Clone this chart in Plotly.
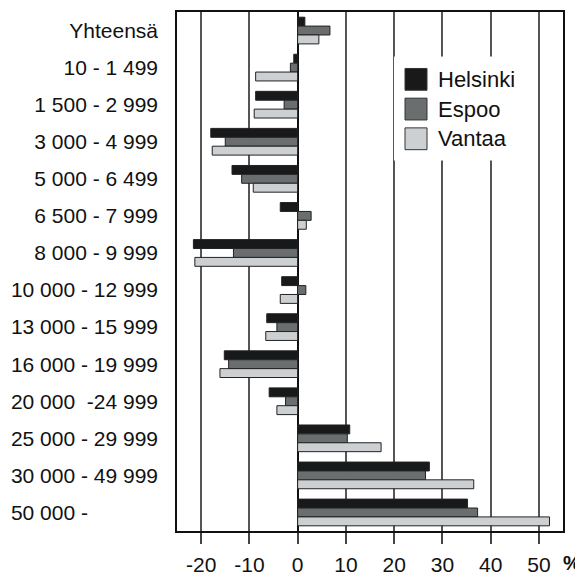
import plotly.graph_objects as go

# Data
categories = [
    "Yhteensä", "10 - 1 499", "1 500 - 2 999", "3 000 - 4 999", "5 000 - 6 499",
    "6 500 - 7 999", "8 000 - 9 999", "10 000 - 12 999", "13 000 - 15 999",
    "16 000 - 19 999", "20 000  -24 999", "25 000 - 29 999", "30 000 - 49 999",
    "50 000 -",
]
helsinki = [1.5, -0.8, -8.7, -18.0, -13.6, -3.6, -21.6, -3.3, -6.4, -15.2, -5.9, 10.8, 27.3, 35.2]
espoo = [6.7, -1.5, -2.8, -15.0, -11.6, 2.8, -13.3, 1.7, -4.3, -14.3, -2.5, 10.3, 26.5, 37.3]
vantaa = [4.4, -8.7, -9.0, -17.7, -9.2, 1.8, -21.3, -3.6, -6.6, -16.1, -4.3, 17.3, 36.5, 52.2]
series_names = ["Helsinki", "Espoo", "Vantaa"]
colors = ["#18191a", "#6a6e6f", "#cdd0d2"]
x_ticks = [-20, -10, 0, 10, 20, 30, 40, 50]
x_tick_text = ["-20", "-10", "0", "10", "20", "30", "40", "50"]

# display labels (last one sits further left in the original)
tick_text = [c for c in categories]
tick_text[-1] = "50 000 -" + "\u2007" * 6

FONT = "Liberation Sans, Arial, sans-serif"

# page has an 8px body margin, so work in page pixels and shift
OFF = 8
W, H = 583 - OFF, 578 - OFF
L, R, T, B = 177 - OFF, 563 - OFF, 10 - OFF, 534 - OFF


def px(x):
    return (x - OFF - L) / (R - L)


def py(y):
    return (B - (y - OFF)) / (B - T)


fig = go.Figure()
for name, vals, col in zip(series_names, [helsinki, espoo, vantaa], colors):
    fig.add_trace(
        go.Bar(
            y=categories,
            x=vals,
            name=name,
            orientation="h",
            marker=dict(color=col, line=dict(color="#222222", width=1)),
            showlegend=False,
        )
    )

# Legend (white box over gridlines + swatches + labels)
shapes = [
    dict(type="rect", xref="paper", yref="paper", x0=px(394), x1=px(536),
         y0=py(160), y1=py(55), fillcolor="white", line=dict(width=0), layer="above")
]
annotations = []
for i, (name, col) in enumerate(zip(series_names, colors)):
    top = 67 + 30 * i
    shapes.append(
        dict(type="rect", xref="paper", yref="paper", x0=px(405), x1=px(427),
             y0=py(top + 22), y1=py(top), fillcolor=col,
             line=dict(color="#333333", width=1), layer="above")
    )
    annotations.append(
        dict(xref="paper", yref="paper", x=px(436), y=py(top + 11), text=name,
             showarrow=False, xanchor="left", yanchor="middle",
             font=dict(size=22, color="#111111", family=FONT))
    )

annotations.append(
    dict(xref="paper", yref="paper", x=px(561), y=py(566), text="<b>%</b>",
         showarrow=False, xanchor="left", yanchor="middle",
         font=dict(size=20, color="#111111", family=FONT))
)

fig.update_layout(
    barmode="group",
    bargap=0.28,
    bargroupgap=0,
    width=W,
    height=H,
    margin=dict(l=L, r=W - R, t=T, b=H - B),
    plot_bgcolor="white",
    paper_bgcolor="white",
    font=dict(family=FONT, size=20, color="#111111"),
    shapes=shapes,
    annotations=annotations,
)

fig.update_xaxes(
    range=[-25, 55],
    tickvals=x_ticks,
    ticktext=x_tick_text,
    showgrid=True,
    gridcolor="#555555",
    gridwidth=1.5,
    zeroline=True,
    zerolinecolor="#111111",
    zerolinewidth=1.5,
    ticks="outside",
    ticklen=11,
    tickwidth=1.5,
    tickcolor="#444444",
    showline=True,
    linecolor="#111111",
    linewidth=1.5,
    mirror=True,
    ticklabelstandoff=3,
    tickfont=dict(size=21),
)
fig.update_yaxes(
    categoryorder="array",
    categoryarray=categories,
    tickvals=categories,
    ticktext=tick_text,
    autorange="reversed",
    showgrid=False,
    showline=True,
    linecolor="#111111",
    linewidth=1.5,
    mirror=True,
    ticks="",
    ticklabelstandoff=13,
    tickfont=dict(size=21),
)

fig.write_html("out.html")
